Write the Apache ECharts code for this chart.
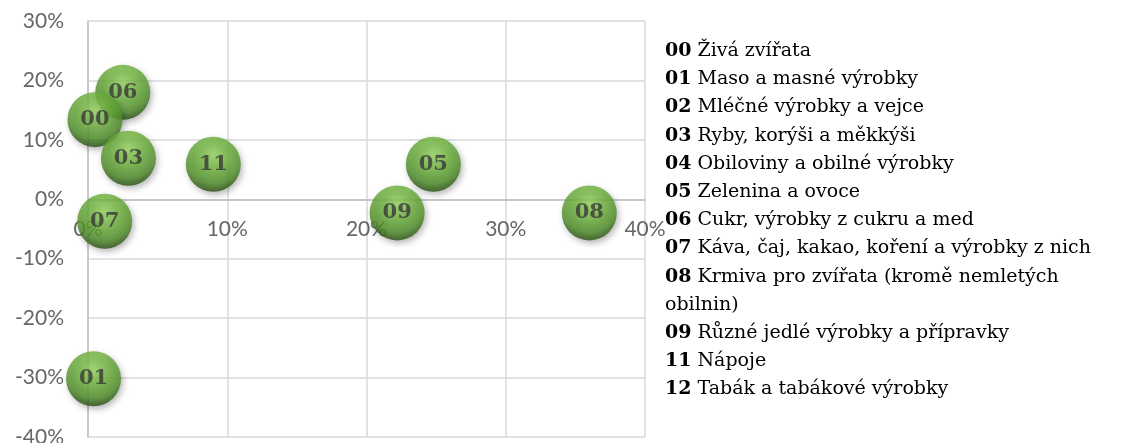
<!DOCTYPE html>
<html>
<head>
<meta charset="utf-8">
<script src="https://cdn.jsdelivr.net/npm/echarts@6/dist/echarts.min.js"></script>
<style>
  html, body { margin: 0; padding: 0; background: #fff; }
  #chart { width: 1127px; height: 443px; }
</style>
</head>
<body>
<div id="chart"></div>
<script>
// kódy skupin a jejich souřadnice (v %)
var codes = [ '06', '00', '03', '11', '05', '07', '09', '08', '01' ];
var xValues = [ 2.5, 0.5, 2.9, 9.0, 24.8, 1.2, 22.2, 36.0, 0.4 ];
var yValues = [ 18.0, 13.4, 6.9, 5.9, 5.9, -3.7, -2.3, -2.3, -30.2 ];

var xTicks = [ 0, 10, 20, 30, 40 ];
var yTicks = [ -40, -30, -20, -10, 0, 10, 20, 30 ];

// legenda vpravo
var legendCodes = [ '00', '01', '02', '03', '04', '05', '06', '07', '08', '', '09', '11', '12' ];
var legendNames = [
  'Živá zvířata',
  'Maso a masné výrobky',
  'Mléčné výrobky a vejce',
  'Ryby, korýši a měkkýši',
  'Obiloviny a obilné výrobky',
  'Zelenina a ovoce',
  'Cukr, výrobky z cukru a med',
  'Káva, čaj, kakao, koření a výrobky z nich',
  'Krmiva pro zvířata (kromě nemletých',
  'obilnin)',
  'Různé jedlé výrobky a přípravky',
  'Nápoje',
  'Tabák a tabákové výrobky'
];

var points = codes.map( function( c, i ) {
  return { name: c, value: [ xValues[ i ], yValues[ i ] ] };
} );

var legendText = legendCodes.map( function( c, i ) {
  return ( c ? '{b|' + c + '} ' : '' ) + '{n|' + legendNames[ i ] + '}';
} ).join( '\n' );

var ball = {
  type: 'radial', x: 0.5, y: 0.33, r: 0.67,
  colorStops: [
    { offset: 0, color: '#9ad862' },
    { offset: 0.45, color: '#6cb13a' },
    { offset: 0.78, color: '#4e8e28' },
    { offset: 1, color: '#264d10' }
  ]
};

var chart = echarts.init( document.getElementById( 'chart' ) );
chart.setOption( {
  animation: false,
  grid: { left: 88, right: 482, top: 21, bottom: 6, outerBoundsMode: 'none', containLabel: false },
  xAxis: {
    type: 'value',
    position: 'bottom',
    min: xTicks[ 0 ], max: xTicks[ xTicks.length - 1 ], interval: 10,
    axisLine: { show: true, onZero: false, lineStyle: { color: '#bfbfbf', width: 1.5 } },
    axisTick: { show: false },
    axisLabel: { formatter: '{value}%', color: '#666', fontSize: 21, fontFamily: 'Lato', margin: 19 },
    splitLine: { lineStyle: { color: '#d9d9d9', width: 1.5 } }
  },
  yAxis: {
    type: 'value',
    min: yTicks[ 0 ], max: yTicks[ yTicks.length - 1 ], interval: 10,
    axisLine: { show: true, onZero: false, lineStyle: { color: '#bfbfbf', width: 1.5 } },
    axisTick: { show: false },
    axisLabel: { formatter: '{value}%', color: '#666', fontSize: 21, fontFamily: 'Lato', margin: 24 },
    splitLine: { lineStyle: { color: '#d9d9d9', width: 1.5 } }
  },
  series: [ {
    type: 'scatter',
    symbolSize: 55,
    data: points,
    itemStyle: {
      color: ball,
      shadowBlur: 6,
      shadowOffsetX: 2,
      shadowOffsetY: 3,
      shadowColor: 'rgba(0,0,0,0.35)'
    },
    label: {
      show: true,
      position: 'inside',
      formatter: '{b}',
      color: '#383838',
      fontSize: 21,
      fontWeight: 'bold',
      fontFamily: 'DejaVu Serif'
    }
  } ],
  graphic: [ {
    type: 'text',
    left: 665,
    top: 37,
    style: {
      text: legendText,
      fill: '#000',
      font: '19px "DejaVu Serif"',
      lineHeight: 28.2,
      rich: {
        b: { fontWeight: 'bold', fontSize: 19, fontFamily: 'DejaVu Serif', lineHeight: 28.2 },
        n: { fontSize: 19, fontFamily: 'DejaVu Serif', lineHeight: 28.2 }
      }
    }
  } ]
} );

// osa x má ležet na nule osy y
var zeroY = chart.convertToPixel( { yAxisIndex: 0 }, 0 );
var bottomY = chart.convertToPixel( { yAxisIndex: 0 }, yTicks[ 0 ] );
chart.setOption( { xAxis: { offset: zeroY - bottomY } } );
</script>
</body>
</html>
